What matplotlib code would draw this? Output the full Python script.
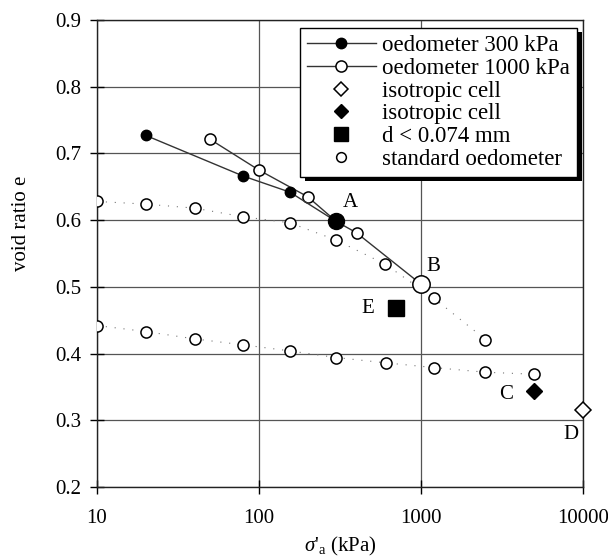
import matplotlib
matplotlib.use("Agg")
import matplotlib.pyplot as plt
from matplotlib.lines import Line2D
from matplotlib.patches import Rectangle
from matplotlib.transforms import IdentityTransform

plt.rcParams["font.family"] = ["Liberation Serif", "DejaVu Serif"]
plt.rcParams["mathtext.fontset"] = "custom"
plt.rcParams["mathtext.rm"] = "Liberation Serif"
plt.rcParams["mathtext.it"] = "Liberation Serif:italic"

# oedometer loaded to 300 kPa (filled circles), ends at A
oed300_s = [20, 80, 155, 300]
oed300_e = [0.727, 0.666, 0.642, 0.598]

# oedometer loaded to 1000 kPa (open circles), ends at B
oed1000_s = [50, 100, 200, 300, 400, 1000]
oed1000_e = [0.721, 0.675, 0.635, 0.598, 0.581, 0.504]

# standard oedometer, two tests
std_hi_s = [10, 20, 40, 80, 155, 300, 600, 1200, 2500]
std_hi_e = [0.628, 0.624, 0.618, 0.605, 0.596, 0.570, 0.534, 0.483, 0.421]
std_lo_s = [10, 20, 40, 80, 155, 300, 610, 1200, 2500, 5000]
std_lo_e = [0.442, 0.433, 0.422, 0.413, 0.404, 0.394, 0.386, 0.379, 0.372, 0.369]

# isotropic cell and fine fraction
iso_open = (10000, 0.316)
iso_fill = (5000, 0.344)
fines = (700, 0.469)

point_labels = ["A", "B", "C", "D", "E"]
label_pos = [(365, 0.627), (1190, 0.530), (3350, 0.339), (8450, 0.278), (467, 0.468)]

fig = plt.figure(figsize=(6.08, 5.6), dpi=100)
ax = fig.add_axes([0.1595, 0.1304, 0.7994, 0.8339])

ax.plot(std_hi_s, std_hi_e, ls=(0, (1, 7)), lw=0.8, color="#777777",
        marker="o", ms=8, mfc="white", mec="black", mew=1.1, zorder=3)
ax.plot(std_lo_s, std_lo_e, ls=(0, (1, 7)), lw=0.8, color="#777777",
        marker="o", ms=8, mfc="white", mec="black", mew=1.1, zorder=3)

ax.plot(oed1000_s, oed1000_e, color="#333333", lw=1.0,
        marker="o", ms=8, mfc="white", mec="black", mew=1.1, zorder=4)
ax.plot(oed300_s, oed300_e, color="#333333", lw=1.0,
        marker="o", ms=7.5, mfc="black", mec="black", zorder=5)

# end points A and B drawn larger
ax.plot(oed300_s[-1], oed300_e[-1], "o", ms=11.5, mfc="black", mec="black", zorder=6)
ax.plot(oed1000_s[-1], oed1000_e[-1], "o", ms=12.5, mfc="white", mec="black",
        mew=1.1, zorder=6)

ax.plot(*iso_open, "D", ms=8.5, mfc="white", mec="black", mew=1.1, zorder=6,
        clip_on=False)
ax.plot(*iso_fill, "D", ms=8.5, mfc="black", mec="black", zorder=6)
ax.plot(*fines, "s", ms=11.5, mfc="black", mec="black", zorder=6)

for txt, (x, y) in zip(point_labels, label_pos):
    ax.text(x, y, txt, fontsize=15, ha="center", va="center", zorder=7)

ax.set_xscale("log")
ax.set_xlim(10, 10000)
ax.set_ylim(0.2, 0.9)
ax.set_xticks([10, 100, 1000, 10000])
ax.set_xticklabels(["10", "100", "1000", "10000"])
ax.set_yticks([0.2, 0.3, 0.4, 0.5, 0.6, 0.7, 0.8, 0.9])
ax.set_yticklabels(["0.2", "0.3", "0.4", "0.5", "0.6", "0.7", "0.8", "0.9"])
ax.minorticks_off()
ax.tick_params(direction="inout", length=10, width=1.0, labelsize=15, pad=6)
ax.tick_params(axis="x", pad=11)
ax.grid(True, color="#555555", lw=0.9)
for sp in ax.spines.values():
    sp.set_color("#222222")
    sp.set_linewidth(1.0)

ax.set_xlabel(r"$\sigma$'$_\mathrm{a}$ (kPa)", fontsize=15, labelpad=5)
ax.set_ylabel("void ratio e", fontsize=15)
ax.yaxis.set_label_coords(-0.135, 0.565)

handles = [
    Line2D([], [], color="#333333", lw=1.0, marker="o", ms=7.5, mfc="black", mec="black"),
    Line2D([], [], color="#333333", lw=1.0, marker="o", ms=8, mfc="white", mec="black", mew=1.1),
    Line2D([], [], ls="none", marker="D", ms=7.5, mfc="white", mec="black", mew=1.1),
    Line2D([], [], ls="none", marker="D", ms=7.5, mfc="black", mec="black"),
    Line2D([], [], ls="none", marker="s", ms=10, mfc="black", mec="black"),
    Line2D([], [], ls="none", marker="o", ms=7, mfc="white", mec="black", mew=1.1),
]
names = ["oedometer 300 kPa", "oedometer 1000 kPa", "isotropic cell",
         "isotropic cell", "d < 0.074 mm", "standard oedometer"]
leg = ax.legend(handles, names, loc="upper right", bbox_to_anchor=(0.988, 0.983),
                fontsize=16.5, frameon=True, fancybox=False, framealpha=1,
                edgecolor="black", labelspacing=0.08, handlelength=3.0,
                handletextpad=0.3, borderpad=0.3, borderaxespad=0)
leg.get_frame().set_linewidth(1.0)
leg.set_zorder(10)

# solid drop shadow below and right of the legend box
fig.canvas.draw()
bb = leg.get_window_extent()
shadow = Rectangle((bb.x0 + 5, bb.y0 - 4), bb.width, bb.height,
                   transform=IdentityTransform(), facecolor="black",
                   edgecolor="none", zorder=9, clip_on=False)
ax.add_patch(shadow)

fig.savefig("out.png", dpi=100)
